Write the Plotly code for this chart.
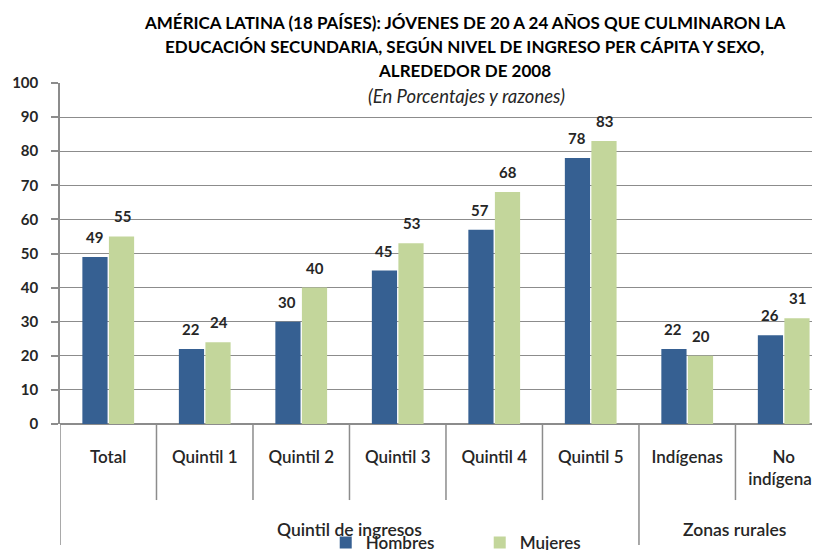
import plotly.graph_objects as go

categories = ["Total", "Quintil 1", "Quintil 2", "Quintil 3", "Quintil 4",
              "Quintil 5", "Indígenas", "No indígenas"]
tick_labels = ["Total", "Quintil 1", "Quintil 2", "Quintil 3", "Quintil 4",
               "Quintil 5", "Indígenas", "No<br>indígenas"]
hombres = [49, 22, 30, 45, 57, 78, 22, 26]
mujeres = [55, 24, 40, 53, 68, 83, 20, 31]
y_ticks = [0, 10, 20, 30, 40, 50, 60, 70, 80, 90, 100]
groups = [("Quintil de ingresos", 0, 5), ("Zonas rurales", 6, 7)]

title_lines = [
    "AMÉRICA LATINA (18 PAÍSES): JÓVENES DE 20 A 24 AÑOS QUE CULMINARON LA",
    "EDUCACIÓN SECUNDARIA, SEGÚN NIVEL DE INGRESO PER CÁPITA Y SEXO,",
    "ALREDEDOR DE 2008",
]
subtitle = "(En Porcentajes y razones)"

FONT = "Lato"
TXT = "#262626"
BLUE = "#366092"
GREEN = "#C3D69B"
GRID = "#8c8c8c"

fig = go.Figure()
fig.add_trace(go.Bar(name="Hombres", x=categories, y=hombres,
                     marker=dict(color=BLUE, line=dict(width=0))))
fig.add_trace(go.Bar(name="Mujeres", x=categories, y=mujeres,
                     marker=dict(color=GREEN, line=dict(width=0))))

annotations = []
# data labels
for vals, shift in ((hombres, -14), (mujeres, 14)):
    for c, v in zip(categories, vals):
        annotations.append(dict(x=c, y=v, xref="x", yref="y", text=str(v),
                                showarrow=False, xshift=shift, yshift=20,
                                yanchor="middle",
                                font=dict(family=FONT, size=15, color=TXT, weight="bold")))

# title lines (paper coordinates)
title_y = [1.176, 1.106, 1.038]
for line, py in zip(title_lines, title_y):
    annotations.append(dict(x=0.527, y=py, xref="paper", yref="paper",
                            text=line, showarrow=False, yanchor="middle",
                            font=dict(family=FONT, size=17, color="#000", weight="bold")))
annotations.append(dict(x=0.529, y=0.962, xref="paper", yref="paper",
                        text=subtitle, showarrow=False, yanchor="middle",
                        font=dict(family=FONT, size=18.5, color=TXT, style="italic")))

shapes = []
# category separators
for i in range(len(categories)):
    b = i - 0.5
    long_line = (i == 0) or (i == groups[1][1])
    shapes.append(dict(type="line", xref="x", yref="paper", x0=b, x1=b,
                       y0=0, y1=-0.355 if long_line else -0.223,
                       line=dict(color=GRID, width=1.5)))
b = len(categories) - 0.5
shapes.append(dict(type="line", xref="x", yref="paper", x0=b, x1=b,
                   y0=0, y1=-0.223, line=dict(color=GRID, width=1.5)))

for name, a, z in groups:
    annotations.append(dict(x=(a + z) / 2, y=-0.31, xref="x", yref="paper",
                            text=name, showarrow=False, yanchor="middle",
                            font=dict(family=FONT, size=17.5, color=TXT, weight=600)))

fig.update_layout(
    width=820, height=550,
    margin=dict(l=52, r=0, t=75, b=134, autoexpand=False),
    paper_bgcolor="white", plot_bgcolor="white",
    barmode="group", bargap=0.45, bargroupgap=0.05,
    showlegend=True,
    legend=dict(orientation="h", x=0.346, xanchor="left", y=-0.349, yanchor="middle",
                font=dict(family=FONT, size=17, color=TXT, weight=600),
                entrywidth=109, entrywidthmode="pixels", itemwidth=30,
                bgcolor="rgba(0,0,0,0)"),
    annotations=annotations,
    shapes=shapes,
    xaxis=dict(range=[-0.5, 7.459], tickvals=categories, ticktext=tick_labels,
               showgrid=False, showline=False, ticks="",
               ticklabelstandoff=21,
               tickfont=dict(family=FONT, size=17, color=TXT, weight=600)),
    yaxis=dict(range=[0, 100], tickvals=y_ticks, showgrid=True, gridcolor=GRID,
               gridwidth=1, showline=True, linecolor=GRID, linewidth=1.5,
               ticks="outside", ticklen=7, tickcolor=GRID, tickwidth=1.5,
               ticklabelstandoff=10,
               zeroline=True, zerolinecolor=GRID, zerolinewidth=1.5,
               tickfont=dict(family=FONT, size=15, color=TXT, weight="bold")),
)

fig.write_html("out.html")
